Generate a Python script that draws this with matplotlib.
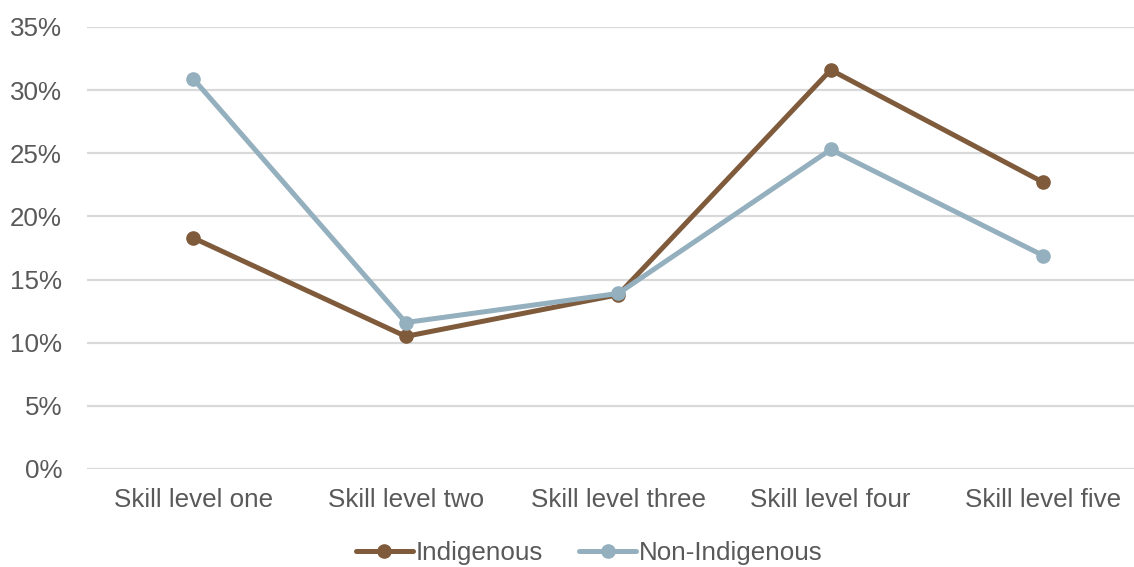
import matplotlib.pyplot as plt
from matplotlib.ticker import FuncFormatter

categories = ['Skill level one', 'Skill level two', 'Skill level three',
              'Skill level four', 'Skill level five']
indigenous = [18.3, 10.5, 13.8, 31.6, 22.7]
non_indigenous = [30.9, 11.6, 13.9, 25.3, 16.9]

BROWN = '#7F5B3C'
BLUE = '#94AFBE'
TEXT = '#595959'
GRID = '#D9D9D9'

plt.rcParams['font.family'] = ['Liberation Sans', 'DejaVu Sans']

fig = plt.figure(figsize=(11.34, 5.67), dpi=100)
ax = fig.add_axes([87 / 1134, 98 / 567, 1062.5 / 1134, 442 / 567])

x = range(len(categories))
ax.plot(x, indigenous, color=BROWN, linewidth=3.6, marker='o', markersize=9.5,
        label='Indigenous', solid_capstyle='round')
ax.plot(x, non_indigenous, color=BLUE, linewidth=3.6, marker='o', markersize=9.5,
        label='Non-Indigenous', solid_capstyle='round')

ax.set_xlim(-0.5, len(categories) - 0.5)
ax.set_ylim(0, 35)
ax.set_yticks(range(0, 36, 5))
ax.yaxis.set_major_formatter(FuncFormatter(lambda v, p: '%d%%' % v))
ax.set_xticks(list(x))
ax.set_xticklabels(categories)

ax.grid(axis='y', color=GRID, linewidth=1.6)
ax.set_axisbelow(True)
for s in ax.spines.values():
    s.set_visible(False)
ax.tick_params(length=0, labelsize=18.7, colors=TEXT)
ax.tick_params(axis='x', pad=14)
ax.tick_params(axis='y', pad=18)

fig.legend(loc='center', bbox_to_anchor=(589 / 1134, 1 - 553 / 567), ncol=2,
           frameon=False, fontsize=18.7, labelcolor=TEXT, handlelength=2.2,
           handletextpad=0.1, columnspacing=1.4, borderaxespad=0)

fig.savefig('out.png', dpi=100)
